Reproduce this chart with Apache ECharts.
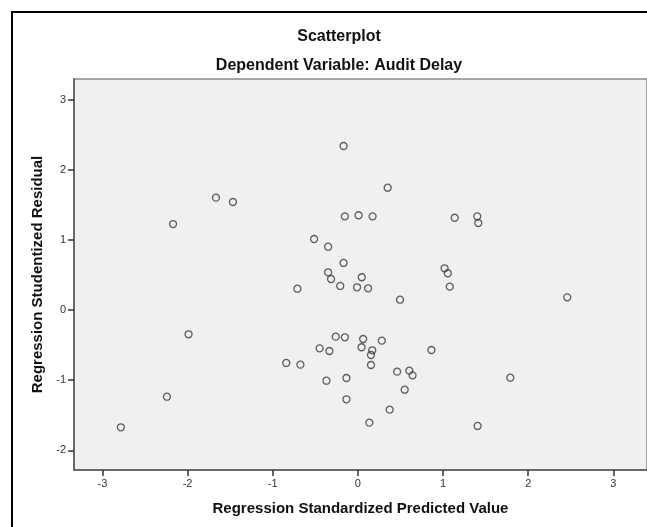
<!DOCTYPE html>
<html>
<head>
<meta charset="utf-8">
<style>html,body{margin:0;padding:0;background:#fff;}#c{width:647px;height:527px;}</style>
<script src="https://cdn.jsdelivr.net/npm/echarts@6/dist/echarts.min.js"></script>
</head>
<body>
<div id="c"></div>
<script>
const predicted = [
  -0.168, -1.666, -1.467, -2.17, -0.153, 0.008, 0.173, -0.514, -0.349, -0.168,
  -0.349, -0.315, 0.046, -0.207, -0.009, 0.120, -0.710, 0.350, 1.137, 1.402,
  1.414, 0.495, 1.018, 1.056, 1.079, 2.459, -1.988, -2.242, -2.783, -0.260,
  -0.153, 0.062, 0.281, -0.449, -0.334, 0.043, 0.169, 0.154, -0.841, -0.675,
  0.154, -0.369, -0.134, -0.134, 0.135, 0.864, 0.461, 0.604, 0.642, 0.550,
  0.373, 1.790, 1.406
];
const residual = [
  2.34, 1.603, 1.541, 1.227, 1.337, 1.352, 1.337, 1.014, 0.904, 0.672,
  0.539, 0.443, 0.468, 0.344, 0.325, 0.311, 0.305, 1.745, 1.317, 1.337,
  1.242, 0.148, 0.596, 0.525, 0.334, 0.182, -0.345, -1.235, -1.671, -0.379,
  -0.388, -0.412, -0.436, -0.545, -0.583, -0.530, -0.573, -0.640, -0.754, -0.778,
  -0.783, -1.007, -0.968, -1.272, -1.605, -0.569, -0.878, -0.864, -0.930, -1.135,
  -1.420, -0.964, -1.652
];
const xTicks = [-3, -2, -1, 0, 1, 2, 3];
const yTicks = [-2, -1, 0, 1, 2, 3];
const titleText = 'Scatterplot';
const subtitleText = 'Dependent Variable: Audit Delay';
const xName = 'Regression Standardized Predicted Value';
const yName = 'Regression Studentized Residual';

const data = predicted.map((x, i) => [x, residual[i]]);
const font = '"Liberation Sans", Arial, sans-serif';
const chart = echarts.init(document.getElementById('c'), null, {renderer: 'canvas'});
chart.setOption({
  animation: false,
  backgroundColor: '#ffffff',
  graphic: [
    {type: 'rect', z: -10,
     shape: {x: 12, y: 12, width: 800, height: 700},
     style: {fill: '#ffffff', stroke: '#000000', lineWidth: 2}},
    {type: 'text', x: 339, y: 37, z: 10,
     style: {text: titleText, align: 'center', verticalAlign: 'middle',
             font: 'bold 16px ' + font, fill: '#111'}},
    {type: 'text', x: 339, y: 66, z: 10,
     style: {text: subtitleText, align: 'center', verticalAlign: 'middle',
             font: 'bold 16px ' + font, fill: '#111'}}
  ],
  grid: {
    left: 74, top: 79, width: 584, height: 391,
    show: true, backgroundColor: '#f0f0f0', borderColor: '#8a8a8a', borderWidth: 1.5,
    containLabel: false
  },
  xAxis: {
    type: 'value', min: -3.333, max: 3.395,
    name: xName, nameLocation: 'middle', nameGap: 31,
    nameTextStyle: {fontFamily: font, fontSize: 15, fontWeight: 'bold', color: '#111'},
    axisLine: {show: true, onZero: false, lineStyle: {color: '#555', width: 1.5}},
    axisTick: {show: true, length: 6, customValues: xTicks, lineStyle: {color: '#333', width: 1.5}},
    axisLabel: {customValues: xTicks, fontFamily: font, fontSize: 11, color: '#333', margin: 8},
    splitLine: {show: false}
  },
  yAxis: {
    type: 'value', min: -2.28, max: 3.295,
    name: yName, nameLocation: 'middle', nameGap: 26, nameRotate: 90,
    nameTextStyle: {fontFamily: font, fontSize: 15, fontWeight: 'bold', color: '#111'},
    axisLine: {show: true, onZero: false, lineStyle: {color: '#555', width: 1.5}},
    axisTick: {show: true, length: 6, customValues: yTicks, lineStyle: {color: '#333', width: 1.5}},
    axisLabel: {customValues: yTicks, fontFamily: font, fontSize: 11, color: '#333', margin: 8},
    splitLine: {show: false}
  },
  series: [{
    type: 'scatter',
    data: data,
    symbol: 'circle',
    symbolSize: 7,
    itemStyle: {color: 'rgba(0,0,0,0)', borderColor: '#3a3a3a', borderWidth: 1.3},
    silent: true
  }]
});
</script>
</body>
</html>
